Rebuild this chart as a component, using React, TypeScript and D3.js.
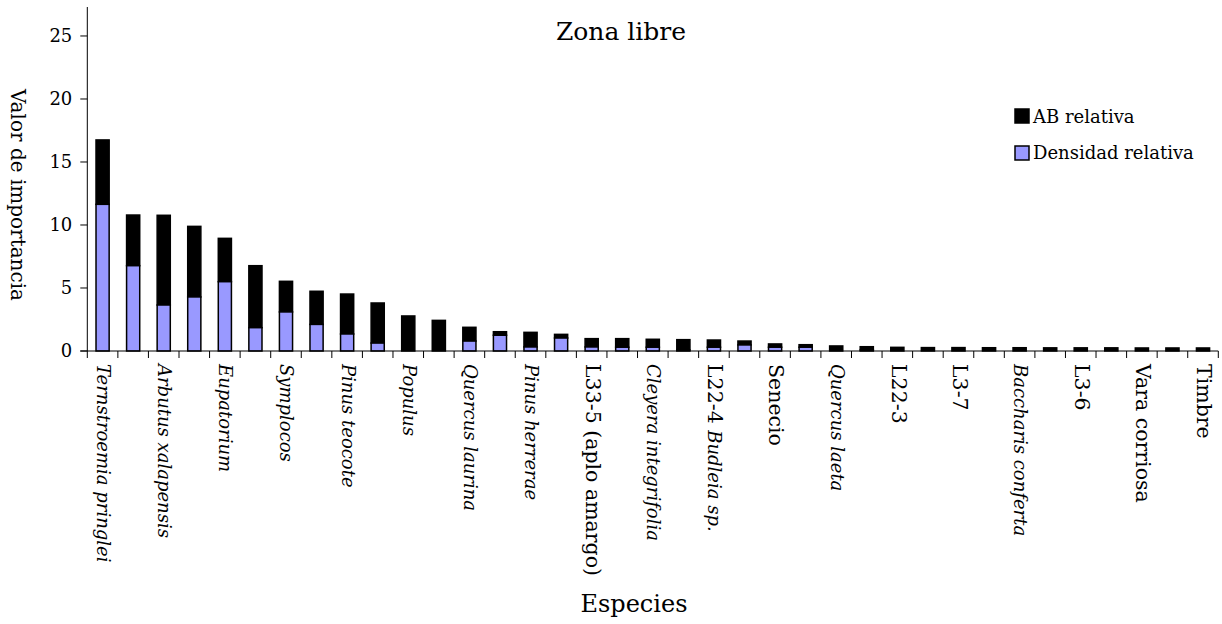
import * as d3 from 'd3'

// species (only every second one carries a label on the axis)
// each label is a list of [text, italic] pieces
const speciesLabels: ([string, boolean][] | null)[] = [
	[['Ternstroemia pringlei', true]],
	null,
	[['Arbutus xalapensis', true]],
	null,
	[['Eupatorium', true]],
	null,
	[['Symplocos', true]],
	null,
	[['Pinus teocote', true]],
	null,
	[['Populus', true]],
	null,
	[['Quercus laurina', true]],
	null,
	[['Pinus herrerae', true]],
	null,
	[['L33-5 (aplo amargo)', false]],
	null,
	[['Cleyera integrifolia', true]],
	null,
	[['L22-4 ', false], ['Budleia sp.', true]],
	null,
	[['Senecio', false]],
	null,
	[['Quercus laeta', true]],
	null,
	[['L22-3', false]],
	null,
	[['L3-7', false]],
	null,
	[['Baccharis conferta', true]],
	null,
	[['L3-6', false]],
	null,
	[['Vara corriosa', false]],
	null,
	[['Timbre', false]],
]

const densidadRelativa = [
	11.64, 6.77, 3.65, 4.29, 5.5, 1.85, 3.1, 2.11, 1.35, 0.63, 0, 0, 0.79, 1.25, 0.32, 1.03, 0.32, 0.3, 0.3,
	0.08, 0.3, 0.48, 0.3, 0.3, 0, 0.08, 0, 0, 0, 0, 0, 0, 0, 0, 0, 0, 0,
]

const abRelativa = [
	5.11, 4.02, 7.12, 5.6, 3.44, 4.92, 2.43, 2.63, 3.17, 3.18, 2.78, 2.43, 1.09, 0.28, 1.16, 0.29, 0.66, 0.68, 0.63,
	0.82, 0.57, 0.31, 0.26, 0.2, 0.4, 0.26, 0.29, 0.27, 0.27, 0.26, 0.26, 0.25, 0.25, 0.25, 0.24, 0.24, 0.24,
]

const yTicks = [0, 5, 10, 15, 20, 25]

const FONT = '"DejaVu Serif", serif'
const BLUE = '#9999ff'

const App = () => {
	const left = 87.3
	const right = 1218.3
	const top = 7
	const bottom = 351

	const idx = d3.range(speciesLabels.length)
	const x = d3.scaleBand<number>().domain(idx).range([left, right]).padding(0)
	const y = d3.scaleLinear().domain([0, 27.3]).range([bottom, top])

	const barW = x.bandwidth() * 0.43

	return (
		<svg width={1222} height={624} style={{ position: 'absolute', left: 0, top: 0 }} fontFamily={FONT}>
			<rect width={1222} height={624} fill="white" />

			{/* bars: densidad at the bottom, AB stacked on top */}
			{idx.map((i) => {
				const cx = x(i)! + x.bandwidth() / 2
				const d = densidadRelativa[i]
				const t = d + abRelativa[i]
				return (
					<g key={i}>
						<rect
							x={cx - barW / 2}
							y={y(t)}
							width={barW}
							height={y(d) - y(t)}
							fill="black"
							stroke="black"
							strokeWidth={1.5}
						/>
						{d > 0 && (
							<rect
								x={cx - barW / 2}
								y={y(d)}
								width={barW}
								height={y(0) - y(d)}
								fill={BLUE}
								stroke="black"
								strokeWidth={1.5}
							/>
						)}
					</g>
				)
			})}

			{/* y axis */}
			<line x1={left} x2={left} y1={top} y2={bottom + 7} stroke="black" strokeWidth={1} />
			{yTicks.map((v) => (
				<g key={v}>
					<line x1={left - 7} x2={left} y1={y(v)} y2={y(v)} stroke="black" />
					<text x={left - 15} y={y(v)} dy="0.36em" textAnchor="end" fontSize={18}>
						{v}
					</text>
				</g>
			))}

			{/* x axis */}
			<line x1={left - 7} x2={right} y1={bottom} y2={bottom} stroke="black" strokeWidth={1} />
			{idx.map((i) => (
				<line key={i} x1={x(i)! + x.bandwidth()} x2={x(i)! + x.bandwidth()} y1={bottom} y2={bottom + 7} stroke="black" />
			))}

			{/* category labels */}
			{idx.map((i) => {
				const lab = speciesLabels[i]
				if (!lab) return null
				const cx = x(i)! + x.bandwidth() / 2
				return (
					<text key={i} transform={`translate(${cx},${bottom + 13}) rotate(90)`} dy="0.35em">
						{lab.map(([s, it], k) => (
							<tspan key={k} fontStyle={it ? 'italic' : 'normal'} fontSize={it ? 18 : 20.5}>
								{s}
							</tspan>
						))}
					</text>
				)
			})}

			{/* titles */}
			<text x={621} y={40} textAnchor="middle" fontSize={25}>
				Zona libre
			</text>
			<text x={634} y={612} textAnchor="middle" fontSize={24}>
				Especies
			</text>
			<text transform="translate(18,195) rotate(90)" textAnchor="middle" dy="0.35em" fontSize={20}>
				Valor de importancia
			</text>

			{/* legend */}
			<rect x={1015} y={109} width={14} height={14} fill="black" stroke="black" strokeWidth={1.5} />
			<text x={1033} y={123} fontSize={18}>
				AB relativa
			</text>
			<rect x={1015} y={146} width={14} height={14} fill={BLUE} stroke="black" strokeWidth={1.5} />
			<text x={1033} y={159} fontSize={18}>
				Densidad relativa
			</text>
		</svg>
	)
}

export default App
